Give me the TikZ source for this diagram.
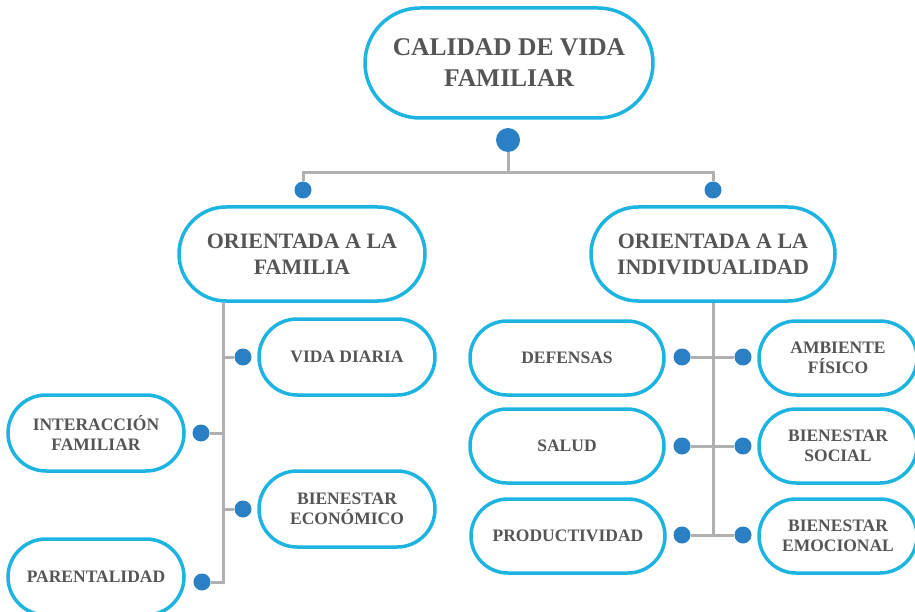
\documentclass[tikz,border=0pt]{standalone}
\usepackage{fontspec}
\setmainfont{Liberation Serif}
\usetikzlibrary{shapes.misc}
\definecolor{boxblue}{HTML}{1DB4E2}
\definecolor{dotblue}{HTML}{2A7FC5}
\definecolor{linegray}{HTML}{B0B0B0}
\definecolor{textgray}{HTML}{555555}

\begin{document}
\begin{tikzpicture}[x=1pt,y=-1pt,
	pill/.style={draw=boxblue,line width=3.5pt,fill=white,rounded rectangle,
		align=center,text=textgray,inner sep=0pt,
		font=\bfseries\fontsize{17.5}{20}\selectfont},
	dot/.style={circle,fill=dotblue,inner sep=0pt,minimum size=17pt},
	link/.style={linegray,line width=3pt}]
	\useasboundingbox (0,0) rectangle (915,612);
	% top level
	\node[pill,minimum width=288pt,minimum height=110pt,
		font=\bfseries\fontsize{25.5}{31}\selectfont] (calidad) at (509,63)
		{CALIDAD DE VIDA\\FAMILIAR};
	\node[dot,minimum size=24pt] (dTop) at (508,140) {};
	% second level
	\node[pill,minimum width=246pt,minimum height=94pt,
		font=\bfseries\fontsize{22}{26}\selectfont] (famL) at (302,254)
		{ORIENTADA A LA\\FAMILIA};
	\node[pill,minimum width=244pt,minimum height=94pt,
		font=\bfseries\fontsize{22}{26}\selectfont] (famR) at (713,254)
		{ORIENTADA A LA\\INDIVIDUALIDAD};
	\node[dot] (dL) at (303,190) {};
	\node[dot] (dR) at (713,190) {};
	\coordinate (hub) at (508,173);
	\draw[link] (dTop) -- (hub);
	\draw[link] (dL) |- (hub) -| (dR);
	% left branch
	\node[pill,minimum width=176pt,minimum height=76pt] (vida) at (347,357) {VIDA DIARIA};
	\node[pill,minimum width=176pt,minimum height=76pt] (inter) at (96,433) {INTERACCIÓN\\FAMILIAR};
	\node[pill,minimum width=176pt,minimum height=76pt] (econ) at (347,509) {BIENESTAR\\ECONÓMICO};
	\node[pill,minimum width=176pt,minimum height=76pt] (parent) at (96,577) {PARENTALIDAD};
	\node[dot] (dVida) at (243,357) {};
	\node[dot] (dInter) at (201,433) {};
	\node[dot] (dEcon) at (243,509) {};
	\node[dot] (dPar) at (202,582) {};
	\coordinate (lBot) at (223,582);
	\draw[link] (famL.south -| lBot) -- (lBot) -- (dPar);
	\foreach \d in {dVida,dInter,dEcon}
		\draw[link] (\d) -- (\d -| lBot);
	% right branch
	\node[pill,minimum width=194pt,minimum height=74pt] (defensas) at (567,358) {DEFENSAS};
	\node[pill,minimum width=194pt,minimum height=74pt] (salud) at (567,446) {SALUD};
	\node[pill,minimum width=194pt,minimum height=74pt] (prod) at (568,536) {PRODUCTIVIDAD};
	\node[pill,minimum width=158pt,minimum height=74pt] (ambiente) at (838,358) {AMBIENTE\\FÍSICO};
	\node[pill,minimum width=158pt,minimum height=74pt] (social) at (838,446) {BIENESTAR\\SOCIAL};
	\node[pill,minimum width=158pt,minimum height=74pt] (emoc) at (838,536) {BIENESTAR\\EMOCIONAL};
	\foreach \a/\b/\y in {dDef/dAmb/357,dSal/dSoc/446,dProd/dEmo/535}{
		\node[dot] (\a) at (682,\y) {};
		\node[dot] (\b) at (743,\y) {};
		\draw[link] (\a) -- (\b);
	}
	\coordinate (rBot) at (713,535);
	\draw[link] (famR.south) -- (rBot);
\end{tikzpicture}
\end{document}
